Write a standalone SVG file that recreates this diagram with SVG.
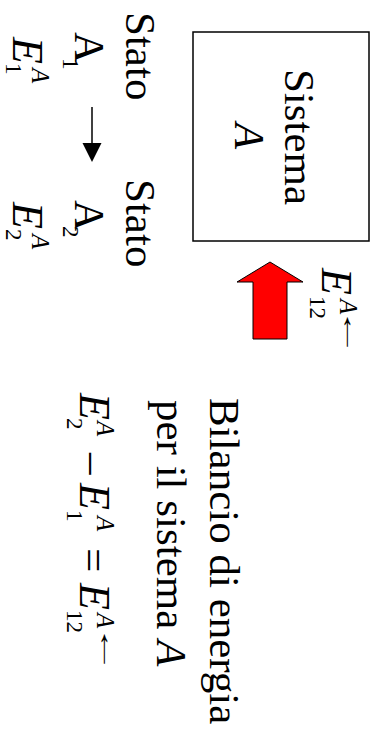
<svg xmlns="http://www.w3.org/2000/svg" width="374" height="736" viewBox="0 0 374 736">
<style>
text { font-family: "Liberation Serif", "Times New Roman", serif; fill: #000; }
.big { font-size: 43px; }
.eq { font-size: 44px; font-style: italic; }
.sub { font-size: 23px; }
.sup { font-size: 25px; font-style: italic; }
.it { font-style: italic; }
.arr { font-size: 25px; }
.box { fill: #fff; stroke: #000; stroke-width: 1.5; }
</style>
<rect width="374" height="736" fill="#fff"/>
<g transform="translate(374,0) rotate(90)">
  <g id="sistema">
    <rect class="box" x="32" y="5" width="209" height="176"/>
    <text class="big" x="137" y="89" text-anchor="middle">Sistema</text>
    <text class="big it" x="136" y="139" text-anchor="middle">A</text>
  </g>
  <g id="stato1">
    <text class="big" x="12" y="248">Stato</text>
    <text class="big" x="32" y="299">A</text>
    <text class="sub" x="58" y="311">1</text>
    <text class="eq" x="37" y="361">E</text>
    <text class="sub" x="63" y="368">1</text>
    <text class="sup" x="68" y="342">A</text>
  </g>
  <g id="stato2">
    <text class="big" x="179" y="248">Stato</text>
    <text class="big" x="200" y="299">A</text>
    <text class="sub" x="226" y="311">2</text>
    <text class="eq" x="202" y="361">E</text>
    <text class="sub" x="229" y="368">2</text>
    <text class="sup" x="234" y="342">A</text>
  </g>
  <g id="calore">
    <text class="eq" x="268" y="52">E</text>
    <text class="sub" x="296" y="64">12</text>
    <text class="sup" x="299" y="34">A</text>
    <text class="arr" transform="translate(307,31) scale(2,1)">←</text>
  </g>
  <g id="bilancio">
    <text class="big" x="398" y="164">Bilancio di energia</text>
    <text class="big" x="400" y="217">per il sistema <tspan class="it">A</tspan></text>
    <text class="eq" x="393" y="294">E</text>
    <text class="sub" x="418" y="307">2</text>
    <text class="sup" x="421" y="277">A</text>
    <text class="big" x="453" y="294">–</text>
    <text class="eq" x="483" y="294">E</text>
    <text class="sub" x="510" y="307">1</text>
    <text class="sup" x="516" y="277">A</text>
    <text class="big" x="548" y="294">=</text>
    <text class="eq" x="583" y="294">E</text>
    <text class="sub" x="610" y="307">12</text>
    <text class="sup" x="613" y="277">A</text>
    <text class="arr" transform="translate(624,274) scale(2,1)">←</text>
  </g>
  <g id="connectors">
    <line x1="107" y1="282" x2="144" y2="282" stroke="#000" stroke-width="1.5"/>
    <path d="M143,272.5 L162,282 L143,291.5 Z" fill="#000"/>
    <polygon points="262,104 282,137 282,121 339,121 339,87 282,87 282,71" fill="#ff0000" stroke="#000" stroke-width="1"/>
  </g>
</g>
</svg>
